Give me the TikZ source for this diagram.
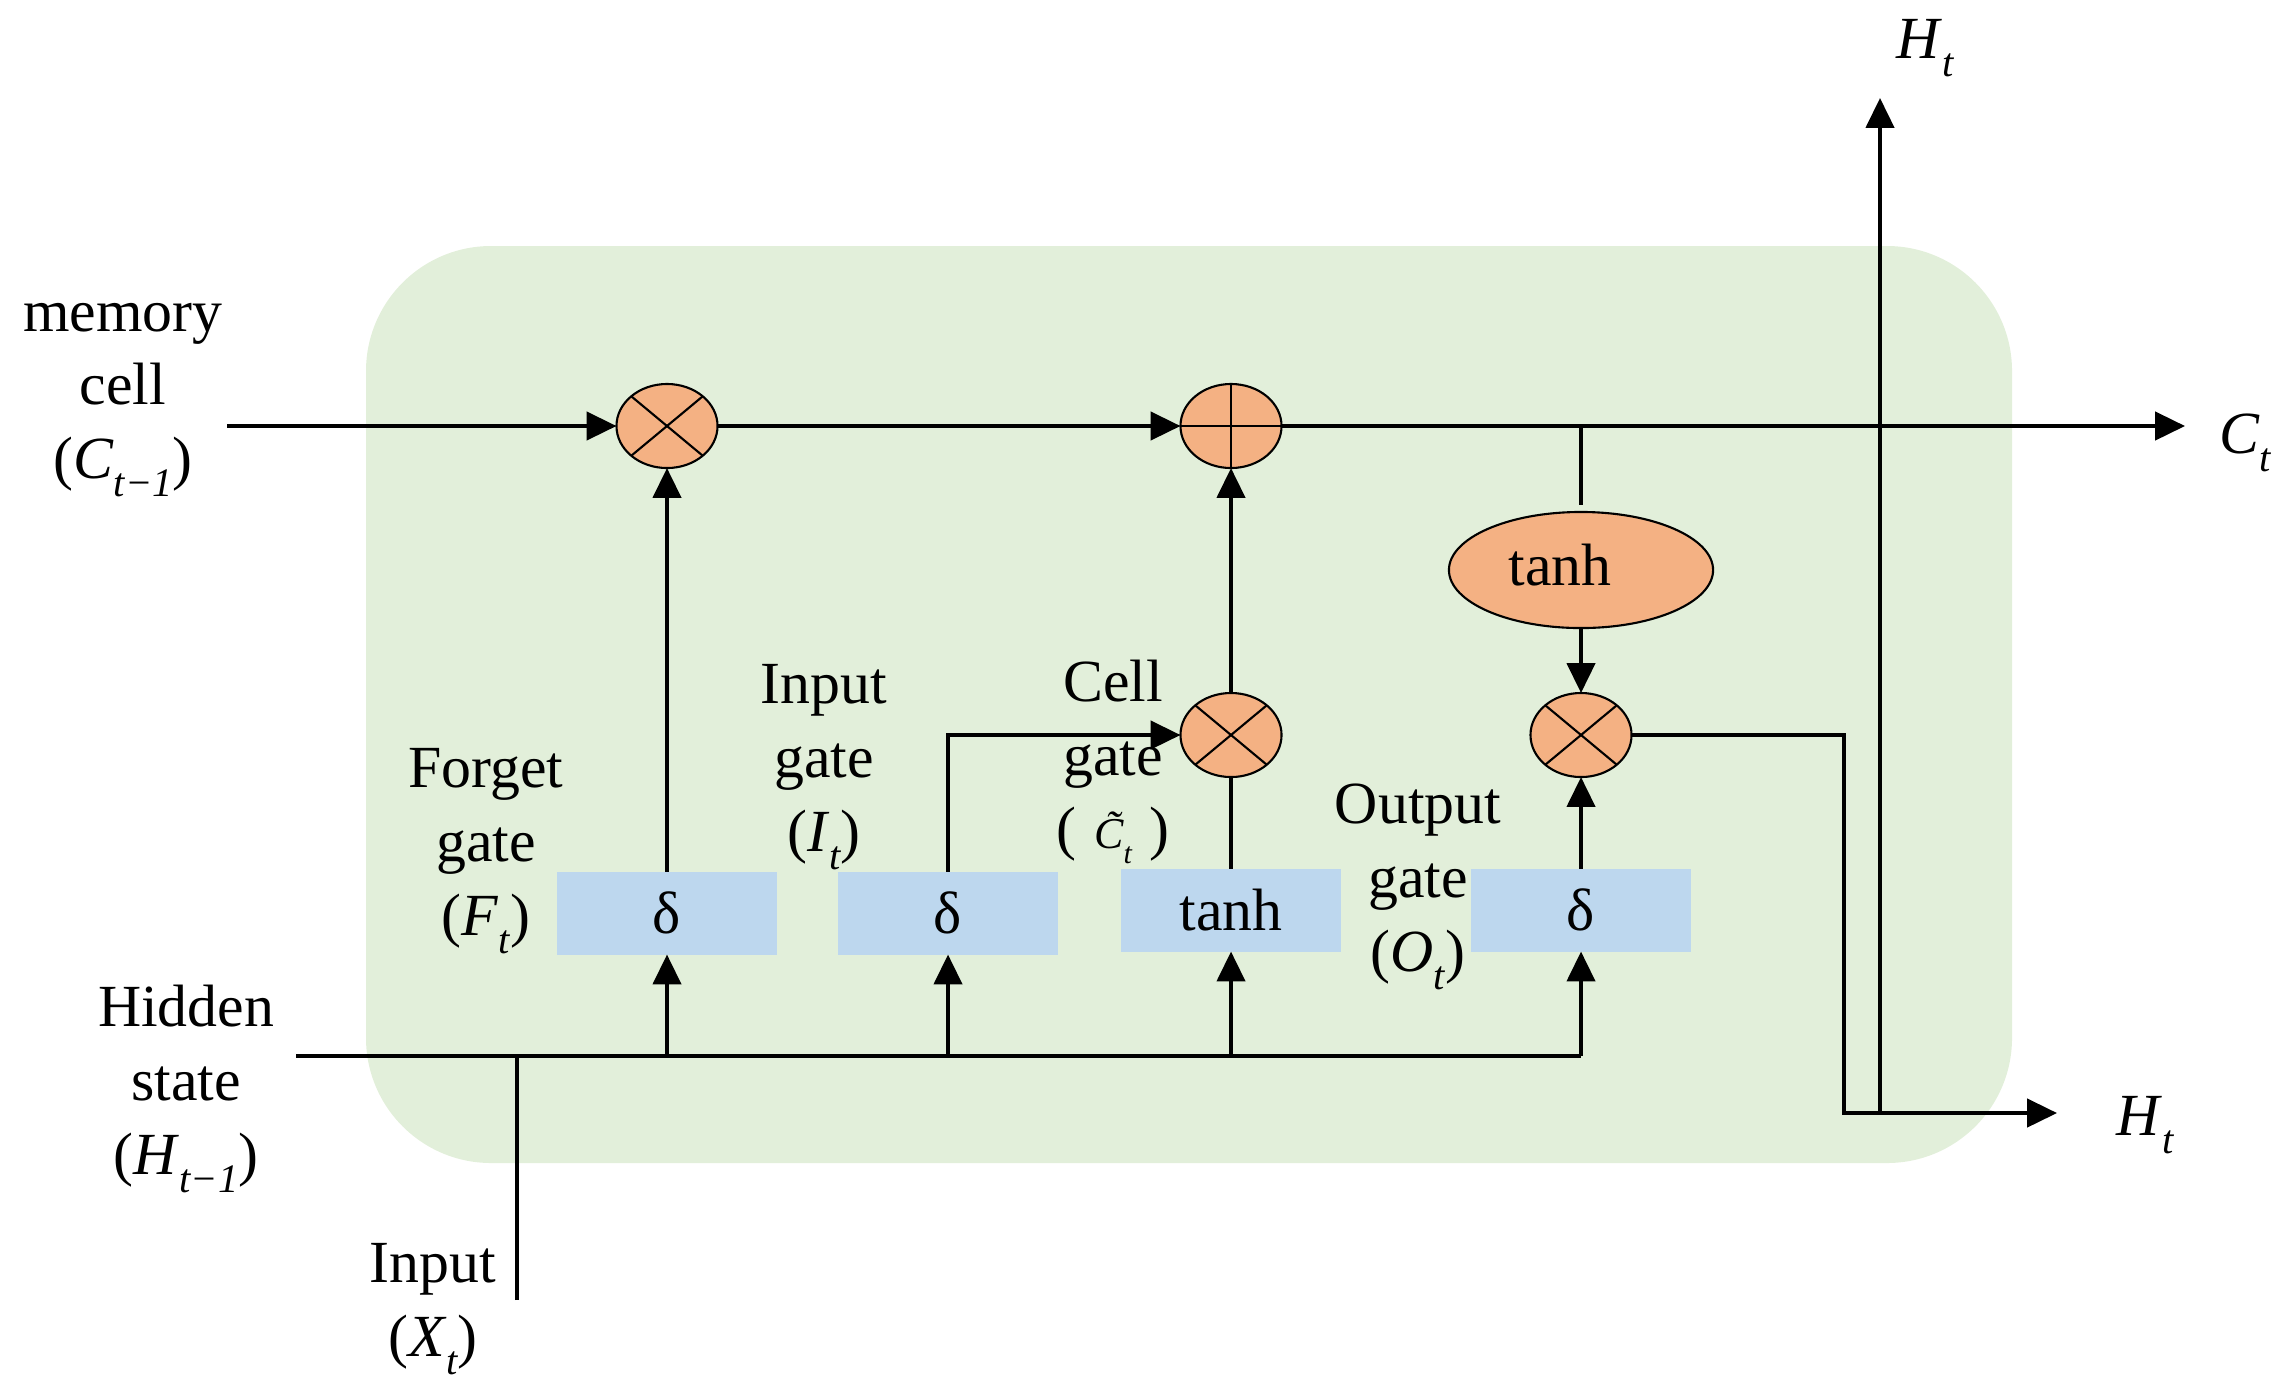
\documentclass[tikz,border=0pt]{standalone}
\usepackage{fontspec}
\setmainfont{Liberation Serif}
\usetikzlibrary{shapes.geometric,arrows.meta}
\definecolor{bggreen}{HTML}{E2EFDA}
\definecolor{opfill}{HTML}{F4B183}
\definecolor{boxfill}{HTML}{BDD7EE}
\newcommand{\sbs}[1]{\raisebox{-0.3em}{\fontsize{11.5}{11.5}\selectfont\itshape #1}}
\begin{document}
\begin{tikzpicture}[x=0.01cm,y=-0.01cm,
  lbl/.style={align=center,font=\fontsize{17}{21}\selectfont,inner sep=0pt},
  opnode/.style={ellipse,draw=black,line width=0.6pt,fill=opfill,minimum width=1.01cm,minimum height=0.84cm,inner sep=0pt,outer sep=0pt},
  gatebox/.style={rectangle,fill=boxfill,minimum width=2.2cm,minimum height=0.83cm,inner sep=0pt,outer sep=0pt,font=\fontsize{17}{17}\selectfont},
  conn/.style={line width=1.1pt},
  arr/.style={conn,-{Triangle[length=8.5pt,width=8pt]}},
  crossline/.style={line width=0.6pt}
]
\useasboundingbox (0,0) rectangle (2295,1387);
% background cell
\fill[bggreen,rounded corners=1.25cm] (366,246) rectangle (2012,1163);

% operator nodes
\node[opnode] (m1) at (667,426) {};
\node[opnode] (p2) at (1231,426) {};
\node[opnode] (m3) at (1231,735) {};
\node[opnode] (m4) at (1581,735) {};
\node[ellipse,draw=black,line width=0.6pt,fill=opfill,minimum width=2.64cm,minimum height=1.16cm,inner sep=0pt,outer sep=0pt,font=\fontsize{17}{17}\selectfont] (th) at (1581,570) {\raisebox{3pt}{tanh}\rule{0.42cm}{0pt}};

\foreach \n in {m1,m3,m4}{
  \draw[crossline] (\n.north east) -- (\n.south west);
  \draw[crossline] (\n.north west) -- (\n.south east);
}
\draw[crossline] (p2.north) -- (p2.south);
\draw[crossline] (p2.west) -- (p2.east);

% gate boxes
\node[gatebox] (bf) at (667,913) {δ};
\node[gatebox] (bi) at (948,913) {δ};
\node[gatebox] (bc) at (1231,910) {tanh};
\node[gatebox] (bo) at (1581,910) {δ};

% coordinates
\coordinate (memin) at (227,426);
\coordinate (ctout) at (2185,426);
\coordinate (hin) at (296,1056);
\coordinate (xin) at (517,1300);
\coordinate (xj) at (517,1056);
\coordinate (hend) at (1581,1056);
\coordinate (tap) at (1581,426);
\coordinate (hturn) at (1844,1113);
\coordinate (hj) at (1880,1113);
\coordinate (hout) at (2057,1113);
\coordinate (htop) at (1880,98);

% memory path
\draw[arr] (memin) -- (m1.west);
\draw[arr] (m1.east) -- (p2.west);
\draw[arr] (p2.east) -- (ctout);
\draw[conn,shorten >=0.07cm] (tap) -- (th.north);
\draw[arr] (th.south) -- (m4.north);

% gates to operators
\draw[arr] (bf.north) -- (m1.south);
\draw[arr] (bi.north) |- (m3.west);
\draw[conn] (bc.north) -- (m3.south);
\draw[arr] (m3.north) -- (p2.south);
\draw[arr] (bo.north) -- (m4.south);

% hidden state and input
\draw[conn] (hin) -- (hend);
\draw[conn] (xin) -- (xj);
\draw[arr] (bf.south |- hin) -- (bf.south);
\draw[arr] (bi.south |- hin) -- (bi.south);
\draw[arr] (bc.south |- hin) -- (bc.south);
\draw[arr] (hend) -- (bo.south);

% output
\draw[arr] (m4.east) -| (hturn) -- (hout);
\draw[arr] (hj) -- (htop);

% labels
\node[lbl] (lmem) at (123,400) {memory\\cell\\(\textit{C}\sbs{t−1})};
\node[lbl] (lhid) at (186,1089) {Hidden\\state\\(\textit{H}\sbs{t−1})};
\node[lbl] (linp) at (433,1309) {Input\\(\textit{X}\sbs{t})};
\node[lbl] (lfg) at (486,851) {Forget\\gate\\(\textit{F}\sbs{t})};
\node[lbl] (lig) at (824,767) {Input\\gate\\(\textit{I}\sbs{t})};
\node[lbl] (lcg) at (1113,762) {Cell\\gate\\(\hspace{0.3em}{\fontsize{12.5}{12.5}\selectfont\itshape\~{C}}\raisebox{-0.25em}{\fontsize{8.5}{8.5}\selectfont\itshape t}\hspace{0.3em})};
\node[lbl] (log) at (1418,887) {Output\\gate\\(\textit{O}\sbs{t})};
\node[lbl] (lht) at (1925,48) {\textit{H}\sbs{t}};
\node[lbl] (lct) at (2245,443) {\textit{C}\sbs{t}};
\node[lbl] (lho) at (2145,1125) {\textit{H}\sbs{t}};
\end{tikzpicture}
\end{document}
